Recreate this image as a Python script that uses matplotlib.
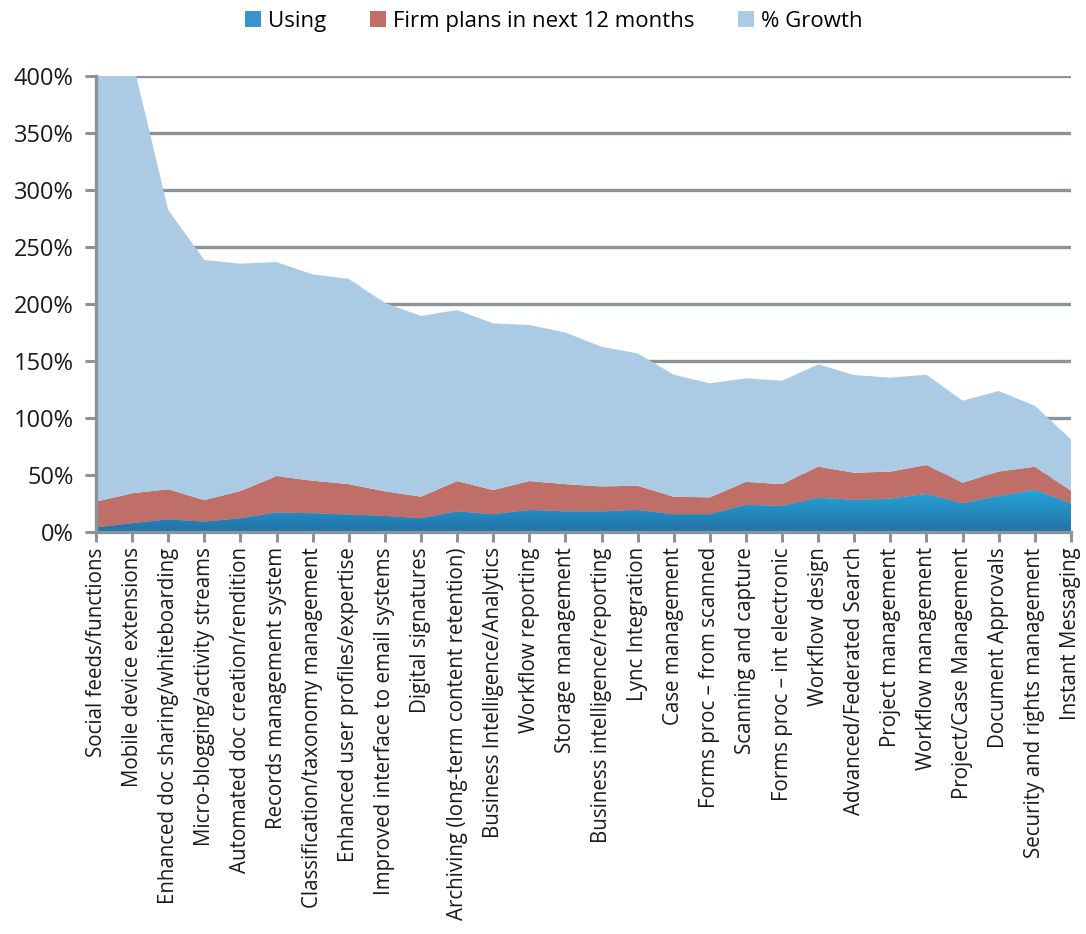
import numpy as np
import matplotlib
matplotlib.use("Agg")
import matplotlib.pyplot as plt
from matplotlib.colors import LinearSegmentedColormap
from matplotlib.patches import Patch, Polygon
from matplotlib.ticker import FuncFormatter

plt.rcParams['font.family'] = ['Open Sans', 'DejaVu Sans']

categories = [
    "Social feeds/functions",
    "Mobile device extensions",
    "Enhanced doc sharing/whiteboarding",
    "Micro-blogging/activity streams",
    "Automated doc creation/rendition",
    "Records management system",
    "Classification/taxonomy management",
    "Enhanced user profiles/expertise",
    "Improved interface to email systems",
    "Digital signatures",
    "Archiving (long-term content retention)",
    "Business Intelligence/Analytics",
    "Workflow reporting",
    "Storage management",
    "Business intelligence/reporting",
    "Lync Integration",
    "Case management",
    "Forms proc \u2013 from scanned",
    "Scanning and capture",
    "Forms proc \u2013 int electronic",
    "Workflow design",
    "Advanced/Federated Search",
    "Project management",
    "Workflow management",
    "Project/Case Management",
    "Document Approvals",
    "Security and rights management",
    "Instant Messaging",
]

# stacked components, in percent
using = [4.0, 7.6, 11.0, 9.0, 12.0, 17.0, 16.4, 15.2, 14.0, 12.0, 18.0, 15.5, 19.3, 18.0,
         18.0, 19.3, 15.5, 15.5, 23.7, 22.8, 30.0, 28.0, 29.2, 33.3, 25.1, 31.6, 36.8, 25.0]
firm_plans = [22.6, 26.4, 26.5, 19.0, 24.0, 32.0, 28.6, 26.8, 21.7, 19.0, 26.7, 21.3, 25.4, 24.0,
              22.0, 21.3, 15.5, 14.9, 20.3, 19.2, 27.3, 24.0, 23.8, 25.5, 18.2, 21.4, 20.5, 11.3]
growth = [565.0, 381.0, 245.0, 210.6, 199.4, 187.8, 181.0, 180.0, 165.3, 158.5, 150.0, 146.2,
          136.9, 133.0, 122.5, 116.1, 107.0, 100.0, 90.8, 90.7, 89.7, 85.7, 82.4, 79.2, 71.9,
          70.7, 53.5, 45.0]

series_names = ["Using", "Firm plans in next 12 months", "% Growth"]
y_ticks = [0, 50, 100, 150, 200, 250, 300, 350, 400]

c_using = "#2590c8"
c_plans = "#c06f68"
c_growth = "#abcae3"
c_grid = "#8b939a"

fig = plt.figure(figsize=(10.86, 9.34), dpi=100)
ax = fig.add_axes([0.0884, 0.4304, 0.8977, 0.4882])

x = np.arange(len(categories))
ax.stackplot(x, using, firm_plans, growth,
             colors=[c_using, c_plans, c_growth], zorder=2, linewidth=0)

# vertical gradient inside the "Using" band
cmap = LinearSegmentedColormap.from_list("blue_grad", ["#2272a6", "#27a4d8"])
grad = np.linspace(0, 1, 256).reshape(-1, 1)
img = ax.imshow(grad, cmap=cmap, origin="lower", aspect="auto",
                extent=[x[0], x[-1], 0, max(using)], zorder=2.5)
band = Polygon([(x[0], 0)] + list(zip(x, using)) + [(x[-1], 0)],
               closed=True, transform=ax.transData)
img.set_clip_path(band)

ax.set_xlim(x[0], x[-1])
ax.set_ylim(0, 400)
ax.set_yticks(y_ticks)
ax.yaxis.set_major_formatter(FuncFormatter(lambda v, p: f"{int(v)}%"))
ax.set_xticks(x)
ax.set_xticklabels(categories, rotation=90, fontsize=14.8, color="#1a1a1a")
ax.tick_params(axis="y", labelsize=17, colors=c_grid, labelcolor="#1a1a1a",
               length=8, width=2.2, direction="out", pad=8)
ax.tick_params(axis="x", colors=c_grid, labelcolor="#1a1a1a",
               length=7, width=2.2, direction="out", pad=4)

ax.grid(axis="y", color=c_grid, linewidth=2.4, zorder=0)
ax.set_axisbelow(True)
for side in ["top", "right"]:
    ax.spines[side].set_visible(False)
for side in ["left", "bottom"]:
    ax.spines[side].set_color(c_grid)
    ax.spines[side].set_linewidth(2.4)
    ax.spines[side].set_zorder(3)

handles = [Patch(facecolor=c, edgecolor="none") for c in ["#3a93cc", c_plans, c_growth]]
fig.legend(handles, series_names, loc="upper center", bbox_to_anchor=(0.51, 1.01),
           ncol=3, frameon=False, fontsize=16, handlelength=0.7, handleheight=0.7,
           handletextpad=0.3, columnspacing=2.0)

fig.savefig("out.png", dpi=100, facecolor="white")
